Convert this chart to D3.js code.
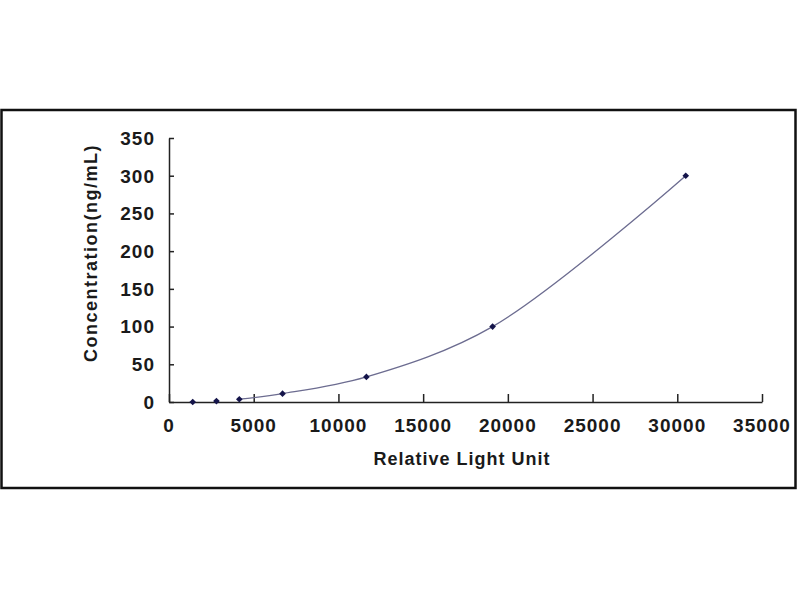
<!DOCTYPE html>
<html>
<head>
<meta charset="utf-8">
<script src="https://cdn.jsdelivr.net/npm/d3@7"></script>
<style>
  body { margin: 0; background: #fff; }
  text { font-family: "Liberation Sans", Arial, sans-serif; font-weight: bold; fill: #1a1a1a; }
</style>
</head>
<body>
<div id="chart"></div>
<script>
// standard curve values
const rlu = [1400, 2800, 4150, 6700, 11650, 19100, 30500];
const conc = [0, 1.2, 3.7, 11.1, 33.3, 100, 300];
const xTicks = [0, 5000, 10000, 15000, 20000, 25000, 30000, 35000];
const yTicks = [0, 50, 100, 150, 200, 250, 300, 350];

const width = 800;
const height = 600;
const svg = d3.select('#chart').append('svg').attr('width', width).attr('height', height);

// outer frame
svg.append('rect')
  .attr('x', 1.5).attr('y', 110)
  .attr('width', 794).attr('height', 378)
  .attr('fill', 'none').attr('stroke', '#111').attr('stroke-width', 2.5);

const x = d3.scaleLinear().domain([0, 35000]).range([169, 762]);
const y = d3.scaleLinear().domain([0, 350]).range([402, 138]);

// x axis, ticks pointing up into the plot
const xAxis = svg.append('g')
  .attr('transform', `translate(0,${y(0)})`)
  .call(d3.axisTop(x).tickValues(xTicks).tickSize(8).tickSizeOuter(0).tickFormat(''));
xAxis.select('.domain').attr('stroke', '#222').attr('stroke-width', 1.5);
xAxis.selectAll('.tick line').attr('stroke', '#222').attr('stroke-width', 1.5);

svg.append('g').selectAll('text')
  .data(xTicks)
  .enter()
  .append('text')
  .attr('x', d => x(d))
  .attr('y', 432)
  .attr('text-anchor', 'middle')
  .style('font-size', '19px')
  .style('letter-spacing', '1px')
  .text(d => d);

// y axis, ticks pointing right into the plot
const yAxis = svg.append('g')
  .attr('transform', `translate(${x(0)},0)`)
  .call(d3.axisRight(y).tickValues(yTicks).tickSize(5).tickSizeOuter(0).tickFormat(''));
yAxis.select('.domain').attr('stroke', '#222').attr('stroke-width', 1.5);
yAxis.selectAll('.tick line').attr('stroke', '#222').attr('stroke-width', 1.5);

svg.append('g').selectAll('text')
  .data(yTicks)
  .enter()
  .append('text')
  .attr('x', 155)
  .attr('y', d => y(d))
  .attr('dy', '0.36em')
  .attr('text-anchor', 'end')
  .style('font-size', '19px')
  .style('letter-spacing', '1px')
  .text(d => d);

// axis titles
svg.append('text')
  .attr('x', 462)
  .attr('y', 465)
  .attr('text-anchor', 'middle')
  .style('font-size', '18px')
  .style('letter-spacing', '1px')
  .text('Relative Light Unit');

svg.append('text')
  .attr('transform', 'translate(97,253) rotate(-90)')
  .attr('text-anchor', 'middle')
  .style('font-size', '18px')
  .style('letter-spacing', '1.5px')
  .text('Concentration(ng/mL)');

// fitted curve through the upper standards
const pts = rlu.map((d, i) => [d, conc[i]]);
const line = d3.line()
  .x(d => x(d[0]))
  .y(d => y(d[1]))
  .curve(d3.curveCatmullRom.alpha(0.5));

svg.append('path')
  .datum(pts.slice(2))
  .attr('d', line)
  .attr('fill', 'none')
  .attr('stroke', '#6c6c90')
  .attr('stroke-width', 1.3);

// markers (small square diamonds)
svg.append('g').selectAll('path')
  .data(pts)
  .enter()
  .append('path')
  .attr('d', d3.symbol().type(d3.symbolSquare).size(22))
  .attr('transform', d => `translate(${x(d[0])},${y(d[1])}) rotate(45)`)
  .attr('fill', '#14144a');
</script>
</body>
</html>
